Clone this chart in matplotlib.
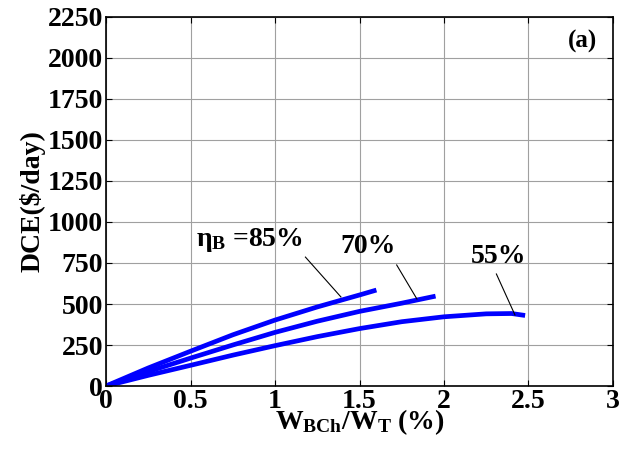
import matplotlib
matplotlib.use("Agg")
import matplotlib.pyplot as plt

plt.rcParams['font.family'] = ['Liberation Serif', 'DejaVu Serif']
plt.rcParams['font.weight'] = 'bold'
plt.rcParams['axes.labelweight'] = 'bold'
plt.rcParams['mathtext.fontset'] = 'custom'
plt.rcParams['mathtext.rm'] = 'Liberation Serif:bold'
plt.rcParams['mathtext.it'] = 'Liberation Serif:bold'
plt.rcParams['mathtext.bf'] = 'Liberation Serif:bold'

# battery charge share (%) vs daily cost of energy, per battery efficiency
x85 = [0, 0.25, 0.5, 0.75, 1.0, 1.25, 1.5, 1.6]
y85 = [0, 110, 212, 312, 402, 482, 555, 585]

x70 = [0, 0.25, 0.5, 0.75, 1.0, 1.25, 1.5, 1.75, 1.95]
y70 = [0, 88, 170, 250, 327, 395, 455, 505, 548]

x55 = [0, 0.25, 0.5, 0.75, 1.0, 1.25, 1.5, 1.75, 2.0, 2.25, 2.4, 2.48]
y55 = [0, 65, 126, 188, 246, 301, 350, 392, 422, 440, 442, 430]

xticks = [0, 0.5, 1, 1.5, 2, 2.5, 3]
xticklabels = ['0', '0.5', '1', '1.5', '2', '2.5', '3']
yticks = [0, 250, 500, 750, 1000, 1250, 1500, 1750, 2000, 2250]

fig = plt.figure(figsize=(6.41, 4.58), dpi=100)
ax = fig.add_axes([0.1654, 0.1572, 0.7909, 0.8057])

for xs, ys in [(x85, y85), (x70, y70), (x55, y55)]:
    ax.plot(xs, ys, color=(0, 0, 1), lw=3.4, solid_capstyle='butt')

ax.set_xlim(0, 3)
ax.set_ylim(0, 2250)
ax.set_xticks(xticks)
ax.set_xticklabels(xticklabels)
ax.set_yticks(yticks)
ax.grid(True, color='#a0a0a0', lw=0.8)
ax.tick_params(direction='in', top=True, right=True, labelsize=20, length=4, pad=2)
for sp in ax.spines.values():
    sp.set_linewidth(1.2)

ax.set_xlabel(r'W$_{\mathrm{BCh}}$/W$_{\mathrm{T}}$ (%)', fontsize=20,
              fontweight='bold', labelpad=-5)
ax.set_ylabel('DCE($/day)', fontsize=20, fontweight='bold', labelpad=2)

# efficiency labels with leader lines
ax.text(0.53, 890, r'$\eta_{\mathrm{B}}$ =85%', fontsize=20, ha='left', va='center')
ax.plot([1.18, 1.39], [786, 543], color='k', lw=0.8)
ax.text(1.55, 850, '70%', fontsize=20, ha='center', va='center')
ax.plot([1.72, 1.84], [738, 530], color='k', lw=0.8)
ax.text(2.32, 790, '55%', fontsize=20, ha='center', va='center')
ax.plot([2.31, 2.42], [683, 433], color='k', lw=0.8)

ax.text(2.82, 2100, '(a)', fontsize=18, ha='center', va='center')

fig.savefig('out.png', dpi=100)
